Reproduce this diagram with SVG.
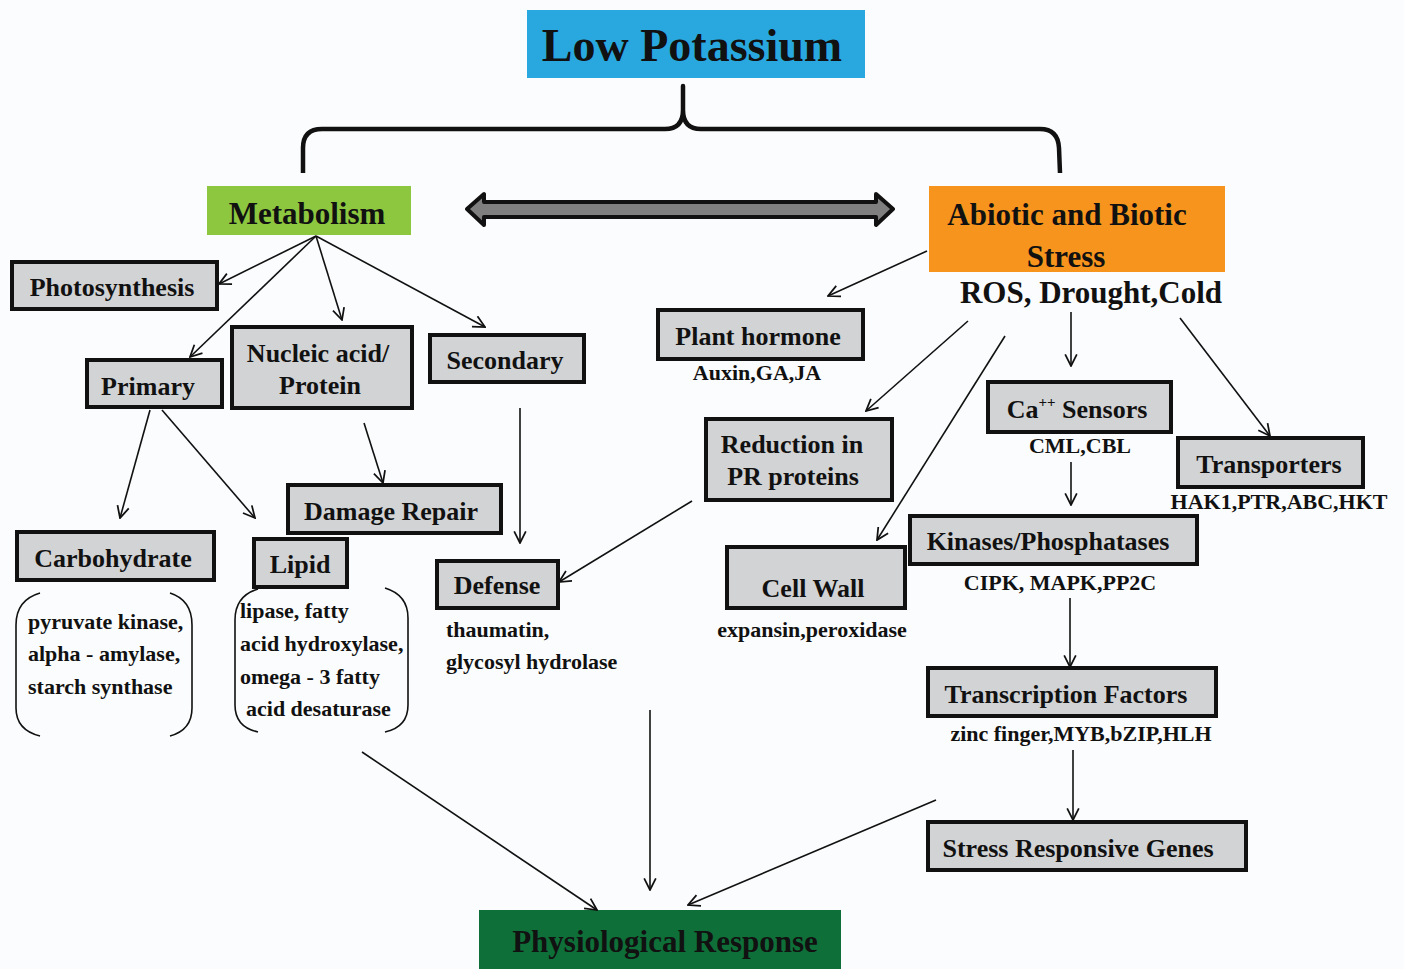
<svg xmlns="http://www.w3.org/2000/svg" width="1404" height="969" viewBox="0 0 1404 969">
<defs>
<style>
.t{font-family:"Liberation Serif","Times New Roman",serif;font-weight:bold;fill:#111;}
.box{fill:#d2d3d5;stroke:#111;stroke-width:4;}
.c{text-anchor:middle;}
.s26{font-size:26px;}
.s22{font-size:22px;}
.s30{font-size:31px;}
.ln{fill:none;stroke:#111;stroke-width:1.6;}
.br{fill:none;stroke:#111;stroke-width:1.6;}
</style>
<marker id="ah" viewBox="0 0 12 12" refX="11" refY="6" markerWidth="14" markerHeight="14" markerUnits="userSpaceOnUse" orient="auto">
<path d="M1,1 L11,6 L1,11" fill="none" stroke="#111" stroke-width="1.5"/>
</marker>
</defs>
<rect width="1404" height="969" fill="#fbfcfd"/>

<g id="low-potassium">
<rect x="527" y="10" width="338" height="68" fill="#29a8e0"/>
<text class="t c" x="692" y="61" font-size="46">Low Potassium</text>
</g>

<g id="brace">
<path d="M303,173 L303,148 Q303,129 322,129 L665,129 Q683,129 683,110 L683,86 L683,110 Q683,129 701,129 L1040,129 Q1058,129 1059,148 L1060,173" fill="none" stroke="#111" stroke-width="4.5" stroke-linejoin="round"/>
</g>

<g id="double-arrow">
<polygon points="467,209 484,194 484,202 876,202 876,194 893,209 876,225 876,217 484,217 484,225" fill="#7f7f7f" stroke="#111" stroke-width="4" stroke-linejoin="round"/>
</g>

<g id="metabolism">
<rect x="207" y="186" width="204" height="49" fill="#8dc63f"/>
<text class="t c s30" x="307" y="224">Metabolism</text>
</g>

<g id="abiotic-biotic-stress">
<rect x="929" y="186" width="296" height="86" fill="#f7941d"/>
<text class="t c s30" x="1067" y="225">Abiotic and Biotic</text>
<text class="t c s30" x="1066" y="267">Stress</text>
<text class="t c s30" x="1091" y="303">ROS, Drought,Cold</text>
</g>

<g id="photosynthesis">
<rect class="box" x="12" y="262" width="205" height="47"/>
<text class="t c s26" x="112" y="296">Photosynthesis</text>
</g>

<g id="primary">
<rect class="box" x="87" y="360" width="135" height="47"/>
<text class="t c s26" x="148" y="395">Primary</text>
</g>

<g id="nucleic-acid-protein">
<rect class="box" x="232" y="327" width="180" height="81"/>
<text class="t c s26" x="318" y="362">Nucleic acid/</text>
<text class="t c s26" x="320" y="394">Protein</text>
</g>

<g id="secondary">
<rect class="box" x="430" y="335" width="154" height="47"/>
<text class="t c s26" x="505" y="369">Secondary</text>
</g>

<g id="damage-repair">
<rect class="box" x="288" y="485" width="213" height="48"/>
<text class="t c s26" x="391" y="520">Damage Repair</text>
</g>

<g id="carbohydrate">
<rect class="box" x="17" y="532" width="197" height="48"/>
<text class="t c s26" x="113" y="567">Carbohydrate</text>
<path class="br" d="M40,593 Q16,600 16,625 L16,708 Q16,730 40,736"/>
<path class="br" d="M170,593 Q192,600 192,625 L192,708 Q192,730 170,736"/>
<text class="t s22" x="28" y="629">pyruvate kinase,</text>
<text class="t s22" x="28" y="661">alpha - amylase,</text>
<text class="t s22" x="28" y="694">starch synthase</text>
</g>

<g id="lipid">
<rect class="box" x="254" y="539" width="93" height="48"/>
<text class="t c s26" x="300" y="573">Lipid</text>
<path class="br" d="M258,589 Q235,596 235,620 L235,705 Q235,727 258,732"/>
<path class="br" d="M385,588 Q408,595 408,618 L408,705 Q408,727 385,732"/>
<text class="t s22" x="240" y="618">lipase, fatty</text>
<text class="t s22" x="240" y="651">acid hydroxylase,</text>
<text class="t s22" x="240" y="684">omega - 3 fatty</text>
<text class="t s22" x="246" y="716">acid desaturase</text>
</g>

<g id="defense">
<rect class="box" x="437" y="561" width="121" height="47"/>
<text class="t c s26" x="497" y="594">Defense</text>
<text class="t s22" x="446" y="637">thaumatin,</text>
<text class="t s22" x="446" y="669">glycosyl hydrolase</text>
</g>

<g id="plant-hormone">
<rect class="box" x="658" y="310" width="205" height="49"/>
<text class="t c s26" x="758" y="345">Plant hormone</text>
<text class="t c s22" x="757" y="380">Auxin,GA,JA</text>
</g>

<g id="reduction-pr">
<rect class="box" x="706" y="419" width="186" height="81"/>
<text class="t c s26" x="792" y="453">Reduction in</text>
<text class="t c s26" x="793" y="485">PR proteins</text>
</g>

<g id="ca-sensors">
<rect class="box" x="988" y="382" width="183" height="50"/>
<text class="t c s26" x="1077" y="418">Ca<tspan font-size="15" dy="-11">++</tspan><tspan dy="11"> Sensors</tspan></text>
<text class="t c s22" x="1080" y="453">CML,CBL</text>
</g>

<g id="transporters">
<rect class="box" x="1178" y="438" width="185" height="49"/>
<text class="t c s26" x="1269" y="473">Transporters</text>
<text class="t c s22" x="1279" y="509">HAK1,PTR,ABC,HKT</text>
</g>

<g id="kinases-phosphatases">
<rect class="box" x="910" y="516" width="287" height="48"/>
<text class="t c s26" x="1048" y="550">Kinases/Phosphatases</text>
<text class="t c s22" x="1060" y="590">CIPK, MAPK,PP2C</text>
</g>

<g id="cell-wall">
<rect class="box" x="727" y="547" width="178" height="61"/>
<text class="t c s26" x="813" y="597">Cell Wall</text>
<text class="t c s22" x="812" y="637">expansin,peroxidase</text>
</g>

<g id="transcription-factors">
<rect class="box" x="928" y="668" width="288" height="48"/>
<text class="t c s26" x="1066" y="703">Transcription Factors</text>
<text class="t c s22" x="1081" y="741">zinc finger,MYB,bZIP,HLH</text>
</g>

<g id="stress-responsive-genes">
<rect class="box" x="928" y="822" width="318" height="48"/>
<text class="t c s26" x="1078" y="857">Stress Responsive Genes</text>
</g>

<g id="physiological-response">
<rect x="479" y="910" width="362" height="62" fill="#0f6f38"/>
<text class="t c s30" x="665" y="952">Physiological Response</text>
</g>

<g id="connectors">
<line class="ln" x1="316" y1="236" x2="219" y2="284" marker-end="url(#ah)"/>
<line class="ln" x1="316" y1="236" x2="190" y2="357" marker-end="url(#ah)"/>
<line class="ln" x1="316" y1="236" x2="342" y2="320" marker-end="url(#ah)"/>
<line class="ln" x1="316" y1="236" x2="485" y2="327" marker-end="url(#ah)"/>
<line class="ln" x1="150" y1="410" x2="120" y2="518" marker-end="url(#ah)"/>
<line class="ln" x1="162" y1="410" x2="255" y2="518" marker-end="url(#ah)"/>
<line class="ln" x1="364" y1="423" x2="383" y2="483" marker-end="url(#ah)"/>
<line class="ln" x1="520" y1="408" x2="520" y2="543" marker-end="url(#ah)"/>
<line class="ln" x1="692" y1="501" x2="559" y2="582" marker-end="url(#ah)"/>
<line class="ln" x1="927" y1="251" x2="828" y2="296" marker-end="url(#ah)"/>
<line class="ln" x1="968" y1="321" x2="866" y2="411" marker-end="url(#ah)"/>
<line class="ln" x1="1005" y1="336" x2="877" y2="540" marker-end="url(#ah)"/>
<line class="ln" x1="1071" y1="312" x2="1071" y2="366" marker-end="url(#ah)"/>
<line class="ln" x1="1180" y1="318" x2="1270" y2="436" marker-end="url(#ah)"/>
<line class="ln" x1="1071" y1="462" x2="1071" y2="505" marker-end="url(#ah)"/>
<line class="ln" x1="1070" y1="598" x2="1070" y2="667" marker-end="url(#ah)"/>
<line class="ln" x1="1073" y1="750" x2="1073" y2="820" marker-end="url(#ah)"/>
<line class="ln" x1="362" y1="752" x2="597" y2="910" marker-end="url(#ah)"/>
<line class="ln" x1="650" y1="710" x2="650" y2="890" marker-end="url(#ah)"/>
<line class="ln" x1="936" y1="800" x2="688" y2="905" marker-end="url(#ah)"/>
</g>
</svg>
